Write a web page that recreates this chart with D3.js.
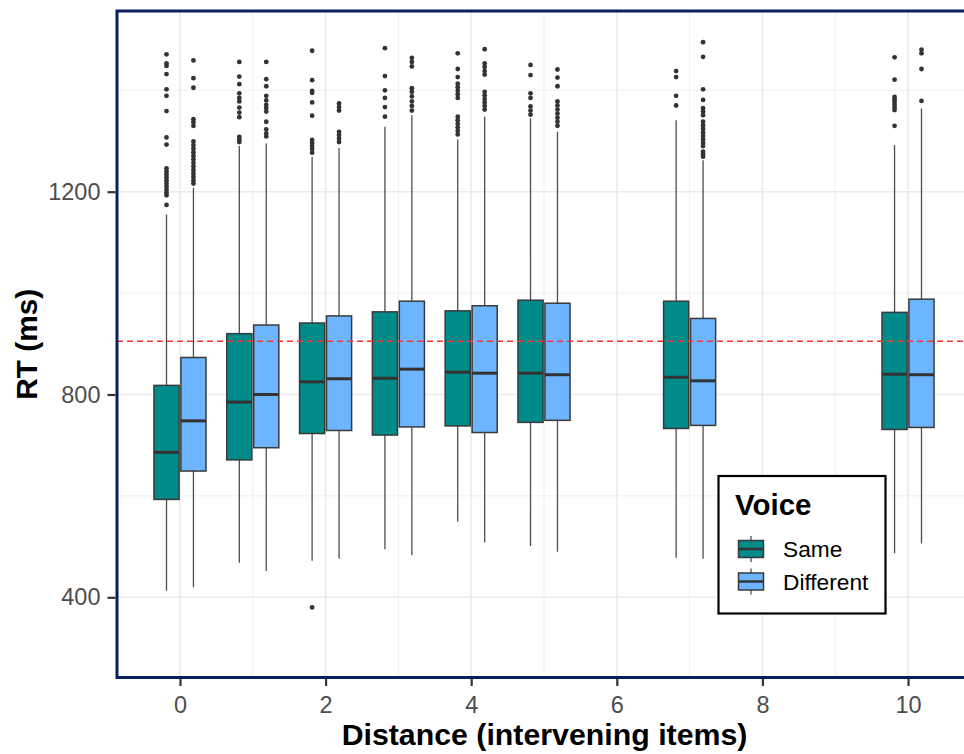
<!DOCTYPE html>
<html>
<head>
<meta charset="utf-8">
<script src="https://cdn.jsdelivr.net/npm/d3@7"></script>
<style>
  html, body { margin: 0; padding: 0; background: #ffffff; }
  svg { display: block; font-family: "Liberation Sans", Arial, Helvetica, sans-serif; }
</style>
</head>
<body>
<svg id="chart" width="964" height="754"></svg>
<script>
// ---------------- DATA ----------------
const distances = [0, 1, 2, 3, 4, 5, 7, 10];
const voices = ["Same", "Different"];
const voiceColors = ["#008B8B", "#6DB5FF"];

const sameQ1     = [593, 671, 723, 720, 738, 745, 733, 731];
const sameMedian = [686, 785, 825, 832, 844, 842, 834, 840];
const sameQ3     = [818, 920, 941, 963, 965, 986, 984, 962];
const sameLow    = [413, 468, 472, 495, 549, 501, 478, 487];
const sameHigh   = [1155, 1290, 1269, 1328, 1303, 1345, 1341, 1292];
const sameOutliers = [
  [1471, 1453, 1448, 1432, 1402, 1389, 1359, 1307, 1293, 1246, 1240, 1234, 1228, 1222, 1216, 1210, 1204, 1198, 1193, 1174],
  [1456, 1427, 1412, 1394, 1385, 1378, 1366, 1356, 1347, 1308, 1303, 1298],
  [1478, 1420, 1399, 1395, 1376, 1350, 1302, 1296, 1290, 1284, 1277, 380],
  [1483, 1428, 1400, 1385, 1367, 1348],
  [1473, 1442, 1426, 1413, 1406, 1399, 1392, 1385, 1348, 1341, 1334, 1327, 1320, 1313],
  [1450, 1430, 1394, 1385, 1368, 1360, 1352],
  [1438, 1426, 1389, 1370],
  [1465, 1421, 1387, 1382, 1377, 1371, 1366, 1361, 1330]
];

const diffQ1     = [649, 695, 729, 736, 725, 749, 739, 735];
const diffMedian = [748, 800, 831, 850, 842, 839, 827, 839];
const diffQ3     = [873, 937, 955, 984, 975, 980, 950, 988];
const diffLow    = [420, 452, 476, 483, 508, 490, 476, 506];
const diffHigh   = [1208, 1295, 1286, 1351, 1348, 1318, 1262, 1364];
const diffOutliers = [
  [1459, 1424, 1405, 1343, 1337, 1330, 1299, 1292, 1285, 1278, 1271, 1264, 1257, 1250, 1243, 1236, 1229, 1222, 1216],
  [1456, 1422, 1408, 1389, 1380, 1371, 1365, 1358, 1338, 1323, 1315, 1309],
  [1374, 1367, 1360, 1318, 1312, 1305, 1298],
  [1464, 1456, 1447, 1404, 1397, 1388, 1378, 1369, 1360],
  [1481, 1453, 1446, 1438, 1431, 1397, 1390, 1383, 1376, 1369, 1362],
  [1441, 1425, 1408, 1378, 1370, 1362, 1354, 1346, 1338, 1330],
  [1495, 1466, 1402, 1381, 1365, 1358, 1351, 1338, 1331, 1324, 1317, 1310, 1303, 1296, 1290, 1279, 1274, 1269],
  [1480, 1473, 1442, 1379]
];

const xTicks = [0, 2, 4, 6, 8, 10];
const xMinor = [1, 3, 5, 7, 9];
const yTicks = [400, 800, 1200];
const yMinor = [600, 1000, 1400];
const refLine = 905;

const xTitle = "Distance (intervening items)";
const yTitle = "RT (ms)";
const legendTitle = "Voice";

// ---------------- LAYOUT ----------------
const panel = { left: 117, top: 11, right: 971, bottom: 677.5 };
const x = d3.scaleLinear().domain([-0.865, 10.865]).range([panel.left, panel.right]);
const y = d3.scaleLinear().domain([241.8, 1556.4]).range([panel.bottom, panel.top]);

const dodge = 0.185;
const boxW = 0.345;

const svg = d3.select("#chart");

// clip for panel
svg.append("defs").append("clipPath").attr("id", "pclip")
  .append("rect")
  .attr("x", panel.left).attr("y", panel.top)
  .attr("width", panel.right - panel.left).attr("height", panel.bottom - panel.top);

const gPanel = svg.append("g").attr("clip-path", "url(#pclip)");

// grid
gPanel.selectAll("line.ymin").data(yMinor).join("line")
  .attr("x1", panel.left).attr("x2", panel.right)
  .attr("y1", d => y(d)).attr("y2", d => y(d))
  .attr("stroke", "#EDEDED").attr("stroke-width", 0.9);
gPanel.selectAll("line.xmin").data(xMinor).join("line")
  .attr("y1", panel.top).attr("y2", panel.bottom)
  .attr("x1", d => x(d)).attr("x2", d => x(d))
  .attr("stroke", "#EDEDED").attr("stroke-width", 0.9);
gPanel.selectAll("line.ymaj").data(yTicks).join("line")
  .attr("x1", panel.left).attr("x2", panel.right)
  .attr("y1", d => y(d)).attr("y2", d => y(d))
  .attr("stroke", "#EBEBEB").attr("stroke-width", 1.6);
gPanel.selectAll("line.xmaj").data(xTicks).join("line")
  .attr("y1", panel.top).attr("y2", panel.bottom)
  .attr("x1", d => x(d)).attr("x2", d => x(d))
  .attr("stroke", "#EBEBEB").attr("stroke-width", 1.6);

// build box records
const boxes = [];
distances.forEach((dist, i) => {
  boxes.push({ dist, v: 0, q1: sameQ1[i], med: sameMedian[i], q3: sameQ3[i], lo: sameLow[i], hi: sameHigh[i], out: sameOutliers[i] });
  boxes.push({ dist, v: 1, q1: diffQ1[i], med: diffMedian[i], q3: diffQ3[i], lo: diffLow[i], hi: diffHigh[i], out: diffOutliers[i] });
});
const cx = b => x(b.dist + (b.v === 0 ? -dodge : dodge));
const halfW = (x(boxW) - x(0)) / 2;

const gB = gPanel.selectAll("g.box").data(boxes).join("g").attr("class", "box");
// whiskers
gB.append("line")
  .attr("x1", cx).attr("x2", cx)
  .attr("y1", b => y(b.hi)).attr("y2", b => y(b.q3))
  .attr("stroke", "#4D4D4D").attr("stroke-width", 1.3);
gB.append("line")
  .attr("x1", cx).attr("x2", cx)
  .attr("y1", b => y(b.q1)).attr("y2", b => y(b.lo))
  .attr("stroke", "#4D4D4D").attr("stroke-width", 1.3);
// box
gB.append("rect")
  .attr("x", b => cx(b) - halfW).attr("width", halfW * 2)
  .attr("y", b => y(b.q3)).attr("height", b => y(b.q1) - y(b.q3))
  .attr("fill", b => voiceColors[b.v])
  .attr("stroke", "#3A3A3A").attr("stroke-width", 1.5);
// median
gB.append("line")
  .attr("x1", b => cx(b) - halfW).attr("x2", b => cx(b) + halfW)
  .attr("y1", b => y(b.med)).attr("y2", b => y(b.med))
  .attr("stroke", "#333333").attr("stroke-width", 3);
// outliers
gB.selectAll("circle").data(b => b.out.map(o => ({ b, o }))).join("circle")
  .attr("cx", d => cx(d.b)).attr("cy", d => y(d.o))
  .attr("r", 2.4).attr("fill", "#333333");

// reference line
gPanel.append("line")
  .attr("x1", panel.left).attr("x2", panel.right)
  .attr("y1", y(refLine)).attr("y2", y(refLine))
  .attr("stroke", "#FF3030").attr("stroke-width", 1.6)
  .attr("stroke-dasharray", "6,4");

// panel border
svg.append("rect")
  .attr("x", panel.left).attr("y", panel.top)
  .attr("width", panel.right - panel.left).attr("height", panel.bottom - panel.top)
  .attr("fill", "none").attr("stroke", "#0B1F5C").attr("stroke-width", 3);

// axes
const yAxis = svg.append("g").attr("transform", `translate(${panel.left - 1.5},0)`)
  .call(d3.axisLeft(y).tickValues(yTicks).tickSize(8).tickPadding(7).tickFormat(d3.format("d")));
const xAxis = svg.append("g").attr("transform", `translate(0,${panel.bottom + 1.5})`)
  .call(d3.axisBottom(x).tickValues(xTicks).tickSize(7).tickPadding(10).tickFormat(d3.format("d")));
[yAxis, xAxis].forEach(a => {
  a.select(".domain").remove();
  a.selectAll(".tick line").attr("stroke", "#333333").attr("stroke-width", 2.2);
  a.selectAll(".tick text").attr("fill", "#4D4D4D")
    .style("font-size", "23.5px").style("font-family", "\"Liberation Sans\", Arial, sans-serif");
});

// axis titles
svg.append("text")
  .attr("x", 544.5).attr("y", 745)
  .attr("text-anchor", "middle")
  .style("font-size", "30.3px").style("font-weight", "bold").attr("fill", "#000")
  .text(xTitle);
svg.append("text")
  .attr("transform", `translate(37,${(panel.top + panel.bottom) / 2}) rotate(-90)`)
  .attr("text-anchor", "middle")
  .style("font-size", "29.8px").style("font-weight", "bold").attr("fill", "#000")
  .text(yTitle);

// legend
const lg = svg.append("g");
lg.append("rect")
  .attr("x", 718.5).attr("y", 476).attr("width", 167).attr("height", 137.5)
  .attr("fill", "#fff").attr("stroke", "#000").attr("stroke-width", 2.2);
lg.append("text").attr("x", 735).attr("y", 515)
  .style("font-size", "29.5px").style("font-weight", "bold").attr("fill", "#000")
  .text(legendTitle);
const keyY = [549, 581.5];
voices.forEach((v, i) => {
  const kx = 738.5, kw = 25, kh = 17, cy = keyY[i];
  lg.append("line").attr("x1", kx + kw / 2).attr("x2", kx + kw / 2)
    .attr("y1", cy - 13).attr("y2", cy + 13)
    .attr("stroke", "#4D4D4D").attr("stroke-width", 1.3);
  lg.append("rect").attr("x", kx).attr("y", cy - kh / 2).attr("width", kw).attr("height", kh)
    .attr("fill", voiceColors[i]).attr("stroke", "#3A3A3A").attr("stroke-width", 1.5);
  lg.append("line").attr("x1", kx).attr("x2", kx + kw)
    .attr("y1", cy).attr("y2", cy)
    .attr("stroke", "#333333").attr("stroke-width", 2.5);
  lg.append("text").attr("x", 783).attr("y", cy).attr("dy", "0.36em")
    .style("font-size", "22.7px").attr("fill", "#000")
    .text(v);
});
</script>
</body>
</html>
